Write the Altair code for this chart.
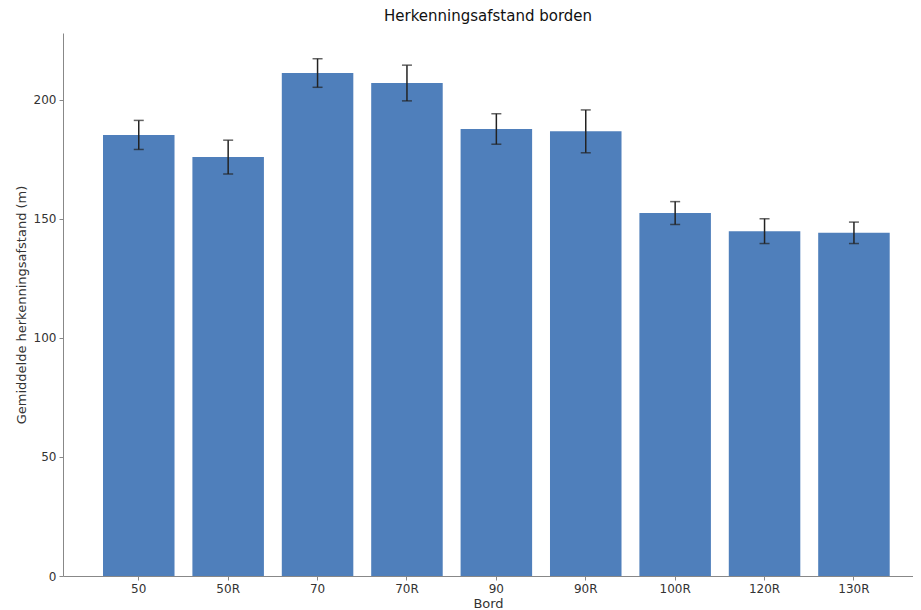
import altair as alt
import pandas as pd

bords = ["50", "50R", "70", "70R", "90", "90R", "100R", "120R", "130R"]
means = [185.2, 175.9, 211.2, 207.0, 187.7, 186.7, 152.4, 144.8, 144.1]
errs = [6.1, 7.1, 6.0, 7.5, 6.4, 9.0, 4.8, 5.2, 4.5]

df = pd.DataFrame({"Bord": bords, "mean": means, "err": errs})
df["lo"] = df["mean"] - df["err"]
df["hi"] = df["mean"] + df["err"]

FONT = "DejaVu Sans"
xs = alt.X("Bord:N", sort=bords,
           scale=alt.Scale(paddingInner=0.2, paddingOuter=0.354, align=0.632),
           axis=alt.Axis(title="Bord", labelAngle=0, labelFontSize=12, titleFontSize=13,
                         labelFont=FONT, titleFont=FONT, labelColor="#333", titleColor="#333",
                         domainColor="#888", tickColor="#888", tickSize=4, labelPadding=3,
                         titlePadding=3, titleFontWeight="normal"))
ys = alt.Y("mean:Q", scale=alt.Scale(domain=[0, 228], nice=False),
           axis=alt.Axis(title="Gemiddelde herkenningsafstand (m)", values=[0, 50, 100, 150, 200],
                         grid=False, labelFontSize=12, titleFontSize=13, labelFont=FONT, titleFont=FONT,
                         labelColor="#333", titleColor="#333", domainColor="#888", tickColor="#888",
                         tickSize=4, labelPadding=3, titlePadding=5, titleFontWeight="normal"))

base = alt.Chart(df)
bars = base.mark_bar(color="#4f7fbb").encode(x=xs, y=ys)
rules = base.mark_rule(color="#222", strokeWidth=1.5).encode(
    x=alt.X("Bord:N", sort=bords), y="lo:Q", y2="hi:Q")
caps_lo = base.mark_tick(color="#222", thickness=1.5, size=10).encode(
    x=alt.X("Bord:N", sort=bords), y="lo:Q")
caps_hi = base.mark_tick(color="#222", thickness=1.5, size=10).encode(
    x=alt.X("Bord:N", sort=bords), y="hi:Q")

chart = alt.layer(bars, rules, caps_lo, caps_hi).properties(
    width=850, height=543,
    title=alt.TitleParams("Herkenningsafstand borden", font=FONT, fontSize=15,
                          fontWeight="normal", color="#111", offset=9),
    autosize=alt.AutoSizeParams(type="none"),
    padding={"left": 55, "top": 25, "right": 0, "bottom": 36},
).configure_view(stroke=None)

chart.save("out.html", embed_options={"renderer": "svg", "actions": False})
